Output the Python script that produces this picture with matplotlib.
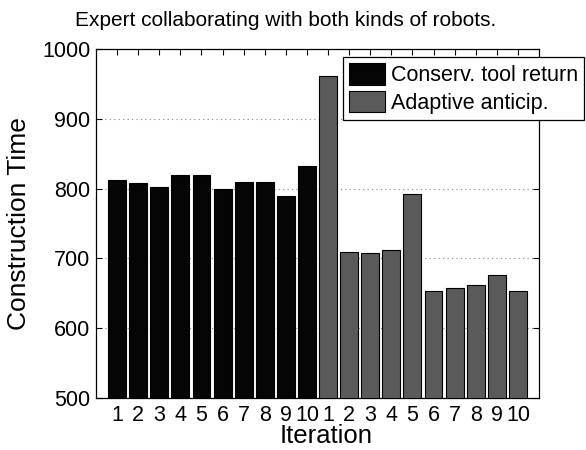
import numpy as np
import matplotlib
matplotlib.use("Agg")
import matplotlib.pyplot as plt

plt.rcParams['font.family'] = ['Liberation Sans', 'DejaVu Sans']

# construction time per iteration
conserv_times = [813, 808, 803, 820, 820, 799, 810, 810, 790, 833]
adaptive_times = [962, 709, 708, 712, 792, 653, 657, 662, 676, 654]
iter_labels = [str(i) for i in range(1, 11)] * 2

W, H = 586, 450
fig = plt.figure(figsize=(W / 100, H / 100), dpi=100)
ax = fig.add_axes([96 / W, 1 - 398 / H, 443 / W, 349 / H])

n = len(conserv_times)
x1 = np.arange(1, n + 1)
x2 = np.arange(n + 1, 2 * n + 1)
b1 = ax.bar(x1, conserv_times, width=0.85, color='#050505', edgecolor='black',
            linewidth=0.8, label='Conserv. tool return', zorder=3)
b2 = ax.bar(x2, adaptive_times, width=0.85, color='#5a5a5a', edgecolor='black',
            linewidth=0.8, label='Adaptive anticip.', zorder=3)

ax.set_xlim(0, 2 * n + 1)
ax.set_ylim(500, 1000)
ax.set_yticks([500, 600, 700, 800, 900, 1000])
ax.set_xticks(np.arange(1, 2 * n + 1))
ax.set_xticklabels(iter_labels)
ax.tick_params(axis='both', labelsize=15.5, direction='in', length=4,
               top=True, right=True, width=0.8)
ax.tick_params(axis='x', pad=5)
ax.tick_params(axis='y', pad=4)
ax.yaxis.grid(True, linestyle=(0, (1, 3)), color='#888888', linewidth=0.8, zorder=0)
for s in ax.spines.values():
    s.set_linewidth(0.9)

ax.set_ylabel('Construction Time', fontsize=19, labelpad=8)
ax.set_xlabel('Iteration', fontsize=18.5, labelpad=1)
ax.xaxis.set_label_coords(0.52, -0.075)
fig.text(286 / W, 1 - 20 / H, 'Expert collaborating with both kinds of robots.',
         fontsize=15, ha='center', va='center')

leg = fig.legend(handles=[b1, b2], loc='upper left',
                 bbox_to_anchor=(343 / W, 1 - 57 / H), fontsize=15.5,
                 handlelength=1.67, handleheight=1.15, handletextpad=0.25,
                 borderpad=0.3, labelspacing=0.2, borderaxespad=0,
                 fancybox=False, framealpha=1, edgecolor='black')
leg.get_frame().set_linewidth(0.9)

fig.savefig('out.png', dpi=100)
